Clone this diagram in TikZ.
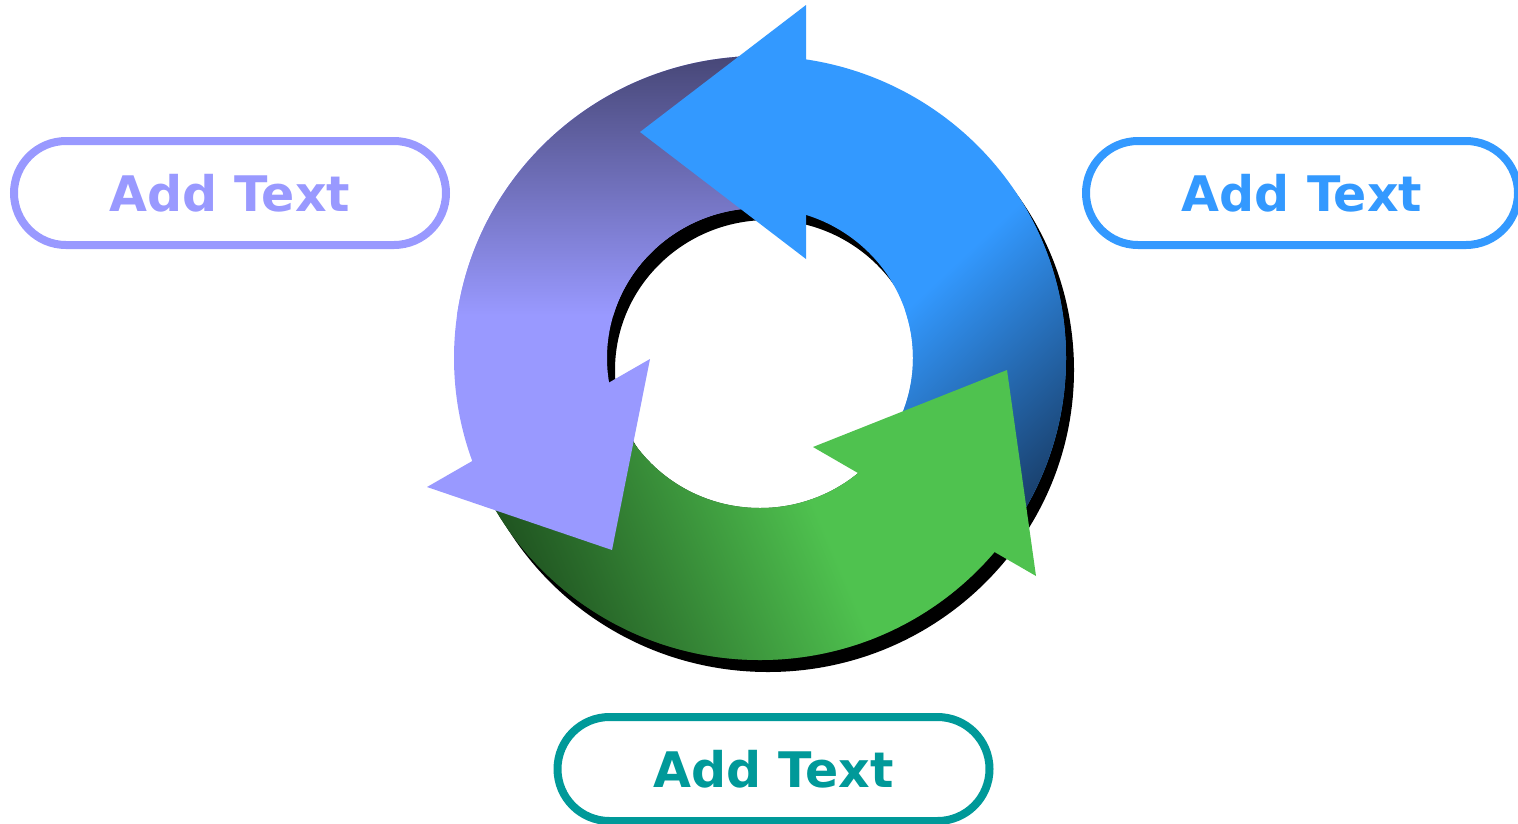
\documentclass[tikz,border=0pt]{standalone}
\usepackage{fontspec}
\setmainfont{DejaVu Sans}
\definecolor{Pd}{HTML}{474777}
\definecolor{Pl}{HTML}{9999FF}
\definecolor{Bl}{HTML}{3399FF}
\definecolor{Bd}{HTML}{193F6B}
\definecolor{Gl}{HTML}{4FC24F}
\definecolor{Gd}{HTML}{1F5220}
\definecolor{Tl}{HTML}{009999}
\tikzset{
  ringpath/.style={insert path={(1066,-358) arc[start angle=0,end angle=360,x radius=306,y radius=302] -- (913,-358) arc[start angle=360,end angle=0,x radius=153,y radius=150] -- cycle}},
  pill/.style={draw=#1, text=#1, line width=8pt, fill=white, rounded corners=52pt,
    minimum width=432pt, minimum height=104pt, inner sep=0pt,
    font=\fontsize{49}{59}\selectfont\bfseries},
}
\newcommand\paintP{%
  \fill[Pl] (300,100) rectangle (1300,-900);
  \fill[Pd] (300,100) rectangle (1300,-57);
  \shade[top color=Pd, bottom color=Pl] (300,-56) rectangle (1300,-315);}
\newcommand\paintB{%
  \fill[Bl] (300,100) rectangle (1300,-900);
  \begin{scope}[transform canvas={shift={(1017,-205)},rotate=-46.8}]
    \shade[left color=Bl, right color=Bd] (0,-700) rectangle (226,700);
    \fill[Bd] (225,-700) rectangle (900,700);
  \end{scope}}
\newcommand\paintG{%
  \fill[Gd] (0,100) rectangle (1300,-900);
  \begin{scope}[transform canvas={shift={(520,-580)},rotate=23}]
    \shade[left color=Gd, right color=Gl] (0,-700) rectangle (300,700);
    \fill[Gl] (299,-700) rectangle (1000,700);
  \end{scope}}
\begin{document}
\begin{tikzpicture}[x=1pt,y=1pt]
\useasboundingbox (0,0) rectangle (1518,-823);
\clip (0,0) rectangle (1518,-823);
% shadow ring
\fill[black, shift={(8,-12)}, ringpath];
% purple body
\begin{scope}
  \clip (767.2,-295.2) -- (803.6,140) -- (-200,140) -- (-198.5,-849.6) -- cycle;
  \clip[ringpath];
  \paintP
\end{scope}
% green body
\begin{scope}
  \clip (705.6,-381.5) -- (216,-612) -- (216,-1000) -- (1300,-1000) -- (1301.5,-725.9) -- cycle;
  \clip[ringpath];
  \paintG
\end{scope}
% blue body
\begin{scope}
  \clip (803,100) -- (1200,100) -- (1200,-666) -- (803,-388) -- cycle;
  \clip[ringpath];
  \paintB
\end{scope}
% heads
\fill[Bl] (806,-5) -- (640,-132) -- (806,-259) -- cycle;
\fill[Pl] (650,-359) -- (427,-487) -- (612,-550) -- cycle;
\fill[Gl] (813,-447) -- (1007,-370) -- (1036,-576) -- cycle;
% boxes
\node[pill=Pl] (lbox) at (230,-193) {Add Text};
\node[pill=Bl] (rbox) at (1302,-193) {Add Text};
\node[pill=Tl] (bbox) at (773.5,-769) {Add Text};
\end{tikzpicture}
\end{document}
